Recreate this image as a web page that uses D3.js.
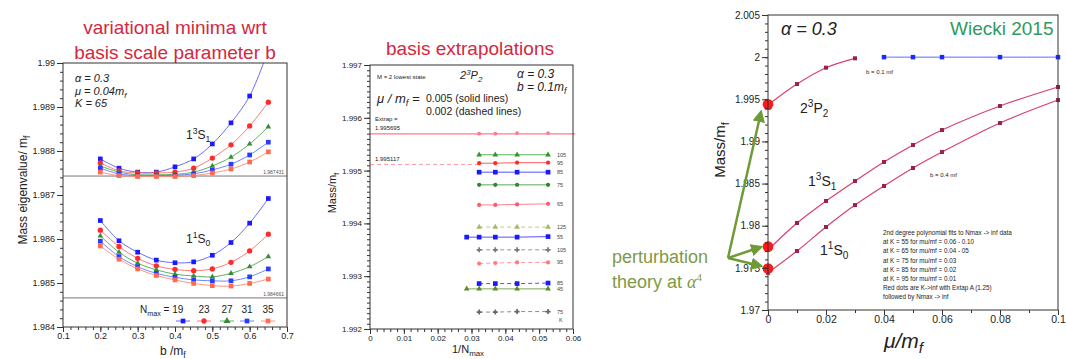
<!DOCTYPE html>
<html>
<head>
<meta charset="utf-8">
<script src="https://cdn.jsdelivr.net/npm/d3@7"></script>
<style>
body { margin: 0; background: #fff; }
svg { display: block; }
text { font-family: "Liberation Sans", Arial, sans-serif; fill: #222; }
</style>
</head>
<body>
<div id="chart"></div>
<script>
// ---- panel 1: variational minima vs b ----
const bVals = [0.2, 0.25, 0.3, 0.35, 0.4, 0.45, 0.5, 0.55, 0.6, 0.65]
const nmaxList = [19, 23, 27, 31, 35]
const tripletMass = [
  [1.98782, 1.98761, 1.98752, 1.98752, 1.98764, 1.98782, 1.98816, 1.98864, 1.98925, 1.99030],
  [1.98773, 1.98755, 1.98750, 1.98750, 1.98752, 1.98761, 1.98784, 1.98814, 1.98857, 1.98911],
  [1.98766, 1.98752, 1.98746, 1.98746, 1.98747, 1.98752, 1.98766, 1.98786, 1.98816, 1.98855],
  [1.98761, 1.98748, 1.98744, 1.98744, 1.98745, 1.98748, 1.98757, 1.98770, 1.98791, 1.98820],
  [1.98752, 1.98744, 1.98742, 1.98742, 1.98742, 1.98744, 1.98750, 1.98759, 1.98775, 1.98798]
]
const singletMass = [
  [1.98642, 1.98596, 1.98570, 1.98552, 1.98546, 1.98548, 1.98563, 1.98592, 1.98636, 1.98692],
  [1.98620, 1.98583, 1.98556, 1.98539, 1.98531, 1.98528, 1.98532, 1.98547, 1.98573, 1.98611],
  [1.98607, 1.98570, 1.98545, 1.98530, 1.98520, 1.98516, 1.98514, 1.98522, 1.98537, 1.98560],
  [1.98595, 1.98560, 1.98537, 1.98522, 1.98513, 1.98507, 1.98505, 1.98505, 1.98514, 1.98532],
  [1.98584, 1.98554, 1.98532, 1.98517, 1.98507, 1.98499, 1.98494, 1.98493, 1.98499, 1.98509]
]
const minimaLines = [1.987431, 1.984661]

// ---- panel 2: basis extrapolations vs 1/Nmax ----
const invNmax = [1 / 35, 1 / 31, 1 / 27, 1 / 23, 1 / 19]
const extrapK = [105, 95, 85, 75, 65, 125, 55, 105, 95, 85, 45, 75]
const extrapMu = [0.005, 0.005, 0.005, 0.005, 0.005, 0.002, 0.005, 0.002, 0.002, 0.002, 0.005, 0.002]
const extrapMass = [
  [null, 1.99530, 1.99530, 1.99530, 1.99530],
  [null, 1.99514, 1.99514, 1.99515, 1.99515],
  [null, 1.99497, 1.99497, 1.99497, 1.99497],
  [null, 1.99473, 1.99473, 1.99473, 1.99473],
  [null, 1.99435, 1.99435, 1.99436, 1.99437],
  [null, 1.99393, 1.99393, 1.99393, 1.99393],
  [1.99374, 1.99374, 1.99374, 1.99374, 1.99375],
  [null, 1.99350, 1.99350, 1.99350, 1.99350],
  [null, 1.99324, 1.99325, 1.99326, 1.99326],
  [null, 1.99286, 1.99286, 1.99286, 1.99287],
  [1.99276, 1.99276, 1.99276, 1.99276, 1.99276],
  [null, 1.99232, 1.99232, 1.99233, 1.99233]
]
const topMass = [null, 1.99570, 1.99570, 1.99571, 1.99571]
const extrapLimit = [1.995695, 1.995117]

// ---- panel 3: mass vs mu/mf ----
const p2Mu = [0, 0.01, 0.02, 0.03]
const p2Mass = [1.99432, 1.99681, 1.99875, 1.99986]
const flatMu = [0.04, 0.05, 0.06, 0.08, 0.1]
const flatMass = [2.0, 2.0, 2.0, 2.0, 2.0]
const muVals = [0, 0.01, 0.02, 0.03, 0.04, 0.05, 0.06, 0.08, 0.1]
const s31Mass = [1.97712, 1.98032, 1.98293, 1.98530, 1.98756, 1.98958, 1.99135, 1.99420, 1.99646]
const s10Mass = [1.97442, 1.97700, 1.97985, 1.98245, 1.98471, 1.98685, 1.98874, 1.99219, 1.99491]
const ptMass = [1.99440, 1.97752, 1.97492]
const fitNotes = [
  '2nd degree polynomial fits to Nmax -> inf data',
  'at K = 55 for mu/mf = 0.06 - 0.10',
  'at K = 65 for mu/mf = 0.04 - 05',
  'at K = 75 for mu/mf = 0.03',
  'at K = 85 for mu/mf = 0.02',
  'at K = 95 for mu/mf = 0.01',
  'Red dots are K->inf with Extap A (1.25)',
  '      followed by Nmax -> inf'
]

const W = 1066, H = 359
const svg = d3.select('#chart').append('svg').attr('width', W).attr('height', H)
const SERIF = '"Liberation Serif", "DejaVu Serif", serif'
const LATO = 'Lato, "Open Sans", sans-serif'
const trim = d => String(+d.toFixed(3))

// text with sup/sub parts
function rich(g, x, y, parts, size, family, style) {
  const t = g.append('text').attr('x', x).attr('y', y)
    .attr('font-size', size).attr('font-family', family || null).attr('font-style', style || null)
  let shift = 0
  parts.forEach(p => {
    const s = typeof p === 'string' ? p : p[0]
    const k = typeof p === 'string' ? 'n' : p[1]
    const target = k === 'sup' ? -size * 0.4 : k === 'sub' ? size * 0.25 : 0
    t.append('tspan').attr('dy', target - shift).attr('font-size', k === 'n' ? size : size * 0.72).text(s)
    shift = target
  })
  return t
}

function frame(g, x, y, o) {
  const [x0, x1] = x.range(), [y0, y1] = y.range()
  g.append('rect').attr('x', x0).attr('y', y1).attr('width', x1 - x0).attr('height', y0 - y1)
    .attr('fill', 'none').attr('stroke', '#333').attr('stroke-width', 1)
  const ax = [
    g.append('g').attr('transform', `translate(${x0},0)`)
      .call(d3.axisLeft(y).tickValues(o.yMajor).tickSize(6).tickPadding(2).tickFormat(trim)),
    g.append('g').attr('transform', `translate(${x0},0)`)
      .call(d3.axisLeft(y).tickValues(o.yMinor).tickSize(3).tickFormat('')),
    g.append('g').attr('transform', `translate(0,${y0})`)
      .call(d3.axisBottom(x).tickValues(o.xMajor).tickSize(5).tickPadding(1).tickFormat(o.xFmt || trim)),
    g.append('g').attr('transform', `translate(0,${y0})`)
      .call(d3.axisBottom(x).tickValues(o.xMinor).tickSize(3).tickFormat(''))
  ]
  ax.forEach(a => {
    a.select('.domain').remove()
    a.selectAll('line').attr('stroke', '#333')
    a.selectAll('text').attr('font-size', o.fs).attr('fill', '#333')
      .attr('font-family', '"Liberation Sans", Arial, sans-serif')
  })
}

function marker(g, shape, cx, cy, color, size) {
  const type = { square: d3.symbolSquare, circle: d3.symbolCircle, tri: d3.symbolTriangle, plus: d3.symbolCross }[shape]
  g.append('path').attr('d', d3.symbol().type(type).size(size)())
    .attr('transform', `translate(${cx},${cy})`).attr('fill', color)
}

// ===================== PANEL 1 =====================
const g1 = svg.append('g')
const x1 = d3.scaleLinear().domain([0.1, 0.7]).range([63, 287])
const y1 = d3.scaleLinear().domain([1.984, 1.99]).range([327, 63])
g1.append('text').attr('x', 175).attr('y', 34).attr('text-anchor', 'middle')
  .attr('font-family', LATO).attr('font-size', 19).style('fill', '#d3283e').text('variational minima wrt')
g1.append('text').attr('x', 175).attr('y', 59).attr('text-anchor', 'middle')
  .attr('font-family', LATO).attr('font-size', 19).style('fill', '#d3283e').text('basis scale parameter b')

g1.append('clipPath').attr('id', 'clip1').append('rect')
  .attr('x', 63).attr('y', 63).attr('width', 224).attr('height', 264)
const p1 = g1.append('g').attr('clip-path', 'url(#clip1)')

minimaLines.forEach(v => {
  p1.append('line').attr('x1', 63).attr('x2', 287).attr('y1', y1(v)).attr('y2', y1(v))
    .attr('stroke', '#777').attr('stroke-width', 1)
  g1.append('text').attr('x', 284).attr('y', y1(v) - 2).attr('text-anchor', 'end')
    .attr('font-size', 5).style('fill', '#555').text(v.toFixed(6))
})

const p1Line = ['#5a5aff', '#ff6a6a', '#4aa84a', '#5a7aff', '#ff8a70']
const p1Mark = ['#1a1aff', '#ff2a2a', '#3a8a3a', '#2a3aff', '#ff6a50']
const p1Shape = ['square', 'circle', 'tri', 'square', 'square']
const line1 = d3.line().x(d => x1(d[0])).y(d => y1(d[1])).curve(d3.curveCatmullRom)
;[tripletMass, singletMass].forEach(block => {
  block.forEach((vals, i) => {
    const pts = bVals.map((b, j) => [b, vals[j]])
    p1.append('path').attr('d', line1(pts)).attr('fill', 'none')
      .attr('stroke', p1Line[i]).attr('stroke-width', 0.9)
    pts.forEach(p => marker(p1, p1Shape[i], x1(p[0]), y1(p[1]), p1Mark[i], i === 2 ? 14 : 22))
  })
})

frame(g1, x1, y1, {
  yMajor: d3.range(1.984, 1.99001, 0.001), yMinor: d3.range(1.984, 1.99001, 0.0002),
  xMajor: d3.range(0.1, 0.7001, 0.1), xMinor: d3.range(0.1, 0.7001, 0.02), fs: 9
})

rich(g1, 75, 82, ['α = 0.3'], 11, SERIF, 'italic')
rich(g1, 75, 95, ['μ = 0.04m', ['f', 'sub']], 11, SERIF, 'italic')
rich(g1, 75, 107, ['K = 65'], 11, SERIF, 'italic')
rich(g1, 186, 139, ['1', ['3', 'sup'], 'S', ['1', 'sub']], 12, SERIF)
rich(g1, 186, 243, ['1', ['1', 'sup'], 'S', ['0', 'sub']], 12, SERIF)

// legend
const legX = [183, 204, 227, 247, 268]
rich(g1, 140, 313, ['N', ['max', 'sub'], ' = 19'], 10)
nmaxList.slice(1).forEach((n, i) => {
  g1.append('text').attr('x', legX[i + 1]).attr('y', 313).attr('text-anchor', 'middle')
    .attr('font-size', 10).text(n)
})
nmaxList.forEach((n, i) => {
  g1.append('line').attr('x1', legX[i] - 7).attr('x2', legX[i] + 7).attr('y1', 321).attr('y2', 321)
    .attr('stroke', p1Line[i]).attr('stroke-width', 0.9)
  marker(g1, p1Shape[i], legX[i], 321, p1Mark[i], 22)
})

g1.append('text').attr('transform', 'translate(27,190) rotate(-90)').attr('text-anchor', 'middle')
  .attr('font-size', 12).text('Mass eigenvalue/ m')
  .append('tspan').attr('dy', 3).attr('font-size', 9).text('f')
rich(g1, 160, 355, ['b /m', ['f', 'sub']], 12)

// ===================== PANEL 2 =====================
const g2 = svg.append('g')
const x2 = d3.scaleLinear().domain([0, 0.06]).range([370, 573])
const y2 = d3.scaleLinear().domain([1.992, 1.997]).range([329, 65])
g2.append('text').attr('x', 470).attr('y', 55).attr('text-anchor', 'middle')
  .attr('font-family', LATO).attr('font-size', 19).style('fill', '#d3283e').text('basis extrapolations')

// extrapolated limits
g2.append('line').attr('x1', x2(0)).attr('x2', 575).attr('y1', y2(extrapLimit[0])).attr('y2', y2(extrapLimit[0]))
  .attr('stroke', '#ff7a8a').attr('stroke-width', 1.2)
g2.append('line').attr('x1', x2(0)).attr('x2', x2(invNmax[1])).attr('y1', y2(extrapLimit[1])).attr('y2', y2(extrapLimit[1]))
  .attr('stroke', '#ff9aa0').attr('stroke-width', 1).attr('stroke-dasharray', '4,3')
topMass.forEach((v, j) => { if (v != null) marker(g2, 'circle', x2(invNmax[j]), y2(v), '#ff7a8a', 12) })

const kColor = { 105: '#2a9a2a', 95: '#ff2a2a', 85: '#1a1aff', 75: '#2a8a2a', 65: '#ff5a6a', 125: '#a8b86a', 55: '#1a1aff', 45: '#5a8a2a' }
const kDashColor = { 105: '#777', 95: '#ff7a7a', 85: '#1a1aff', 75: '#666' }
const kShape = { 105: 'tri', 95: 'circle', 85: 'square', 75: 'circle', 65: 'circle', 125: 'tri', 55: 'square', 45: 'tri' }
const line2 = d3.line().defined(d => d[1] != null).x(d => x2(d[0])).y(d => y2(d[1]))
extrapMass.forEach((vals, i) => {
  const k = extrapK[i], solid = extrapMu[i] === 0.005
  const col = solid ? kColor[k] : (k === 125 ? kColor[k] : kDashColor[k])
  const shape = solid ? kShape[k] : (k === 105 || k === 75 ? 'plus' : kShape[k])
  const pts = invNmax.map((v, j) => [v, vals[j]])
  g2.append('path').attr('d', line2(pts)).attr('fill', 'none').attr('stroke', col)
    .attr('stroke-width', 0.9).attr('stroke-dasharray', solid ? null : '4,3').attr('opacity', 0.85)
  pts.forEach(p => { if (p[1] != null) marker(g2, shape, x2(p[0]), y2(p[1]), col, shape === 'square' ? 22 : 14) })
  g2.append('text').attr('x', 557).attr('y', y2(vals[4]) + 2).attr('font-size', 5.5).style('fill', '#444').text(k)
})
g2.append('text').attr('x', 559).attr('y', 322).attr('font-size', 5.5).style('fill', '#444').text('K')

frame(g2, x2, y2, {
  yMajor: d3.range(1.992, 1.99701, 0.001), yMinor: d3.range(1.992, 1.99701, 0.0001),
  xMajor: d3.range(0, 0.0601, 0.01), xMinor: d3.range(0, 0.0601, 0.002), fs: 8,
  xFmt: d => d === 0 ? '0' : d.toFixed(2)
})

g2.append('text').attr('x', 377).attr('y', 79).attr('font-size', 6).text('M = 2 lowest state')
rich(g2, 460, 79, ['2', ['3', 'sup'], 'P', ['2', 'sub']], 11, SERIF, 'italic')
rich(g2, 517, 78, ['α = 0.3'], 12, SERIF, 'italic')
rich(g2, 517, 91, ['b = 0.1m', ['f', 'sub']], 12, SERIF, 'italic')
rich(g2, 377, 103, ['μ / m', ['f', 'sub'], ' ='], 13, SERIF, 'italic')
g2.append('text').attr('x', 426).attr('y', 102).attr('font-size', 10.5).text('0.005 (solid lines)')
g2.append('text').attr('x', 426).attr('y', 115).attr('font-size', 10.5).text('0.002 (dashed lines)')
g2.append('text').attr('x', 375).attr('y', 121).attr('font-size', 6).text('Extrap =')
g2.append('text').attr('x', 375).attr('y', 130).attr('font-size', 6).text(extrapLimit[0].toFixed(6))
g2.append('text').attr('x', 375).attr('y', 161).attr('font-size', 6).text(extrapLimit[1].toFixed(6))

g2.append('text').attr('transform', 'translate(336,193) rotate(-90)').attr('text-anchor', 'middle')
  .attr('font-size', 11).text('Mass/m')
  .append('tspan').attr('dy', 3).attr('font-size', 8).text('f')
rich(g2, 452, 353, ['1/N', ['max', 'sub']], 11)

// ===================== PANEL 3 =====================
const g3 = svg.append('g')
const x3 = d3.scaleLinear().domain([0, 0.1]).range([768, 1058])
const y3 = d3.scaleLinear().domain([1.97, 2.005]).range([310, 15])
const line3 = d3.line().x(d => x3(d[0])).y(d => y3(d[1])).curve(d3.curveCatmullRom)

g3.append('path').attr('d', line3(flatMu.map((m, i) => [m, flatMass[i]])))
  .attr('fill', 'none').attr('stroke', '#5a6aff').attr('stroke-width', 1)
flatMu.forEach((m, i) => marker(g3, 'square', x3(m), y3(flatMass[i]), '#1a2aff', 20))
;[[p2Mu, p2Mass], [muVals, s31Mass], [muVals, s10Mass]].forEach(([ms, vs]) => {
  const pts = ms.map((m, i) => [m, vs[i]])
  g3.append('path').attr('d', line3(pts)).attr('fill', 'none').attr('stroke', '#d8406a').attr('stroke-width', 1.2)
  pts.forEach(p => marker(g3, 'square', x3(p[0]), y3(p[1]), '#9a2050', 16))
})
marker(g3, 'square', x3(0), y3(p2Mass[0]) + 2, '#2a3aff', 30)
ptMass.forEach(v => marker(g3, 'circle', x3(0), y3(v), '#ff1a1a', 90))

frame(g3, x3, y3, {
  yMajor: d3.range(1.97, 2.00501, 0.005), yMinor: d3.range(1.97, 2.00501, 0.001),
  xMajor: d3.range(0, 0.1001, 0.02), xMinor: d3.range(0, 0.1001, 0.01), fs: 10.5,
  xFmt: d => trim(d)
})
g3.selectAll('g.tick text').filter(function () { return +this.textContent > 1 }).attr('font-size', 10)

rich(g3, 781, 35, ['α = 0.3'], 18, SERIF, 'italic')
g3.append('text').attr('x', 950).attr('y', 35).attr('font-family', LATO).attr('font-size', 19)
  .style('fill', '#2f9a62').text('Wiecki 2015')
rich(g3, 800, 113, ['2', ['3', 'sup'], 'P', ['2', 'sub']], 14)
rich(g3, 808, 186, ['1', ['3', 'sup'], 'S', ['1', 'sub']], 14)
rich(g3, 820, 255, ['1', ['1', 'sup'], 'S', ['0', 'sub']], 14)
g3.append('text').attr('x', 866).attr('y', 74).attr('font-size', 6).text('b = 0.1 mf')
g3.append('text').attr('x', 930).attr('y', 177).attr('font-size', 6).text('b = 0.4 mf')
fitNotes.forEach((s, i) => {
  g3.append('text').attr('x', 883).attr('y', 235 + i * 9.2).attr('font-size', 6.3).text(s)
})

g3.append('text').attr('transform', 'translate(725,150) rotate(-90)').attr('text-anchor', 'middle')
  .attr('font-size', 15).text('Mass/m')
  .append('tspan').attr('dy', 4).attr('font-size', 11).text('f')
rich(g3, 884, 348, ['μ/m', ['f', 'sub']], 21, SERIF, 'italic')

// perturbation theory arrows
const green = '#6f9a38'
svg.append('defs').append('marker').attr('id', 'ah').attr('viewBox', '0 0 10 10')
  .attr('refX', 8).attr('refY', 5).attr('markerWidth', 5).attr('markerHeight', 5).attr('orient', 'auto')
  .append('path').attr('d', 'M0,0L10,5L0,10z').attr('fill', green)
const origin = [728, 258]
;[[761, 112], [761, 247], [761, 266]].forEach(t => {
  svg.append('line').attr('x1', origin[0]).attr('y1', origin[1]).attr('x2', t[0]).attr('y2', t[1])
    .attr('stroke', green).attr('stroke-width', 2.5).attr('marker-end', 'url(#ah)')
})
svg.append('text').attr('x', 612).attr('y', 263).attr('font-family', LATO).attr('font-size', 18)
  .style('fill', '#7f9a45').text('perturbation')
const pt = svg.append('text').attr('x', 612).attr('y', 288).attr('font-family', LATO).attr('font-size', 18)
  .style('fill', '#7f9a45').text('theory at ')
pt.append('tspan').attr('font-family', SERIF).attr('font-style', 'italic').text('α')
pt.append('tspan').attr('dy', -7).attr('font-size', 11).attr('font-family', SERIF).text('4')
</script>
</body>
</html>
